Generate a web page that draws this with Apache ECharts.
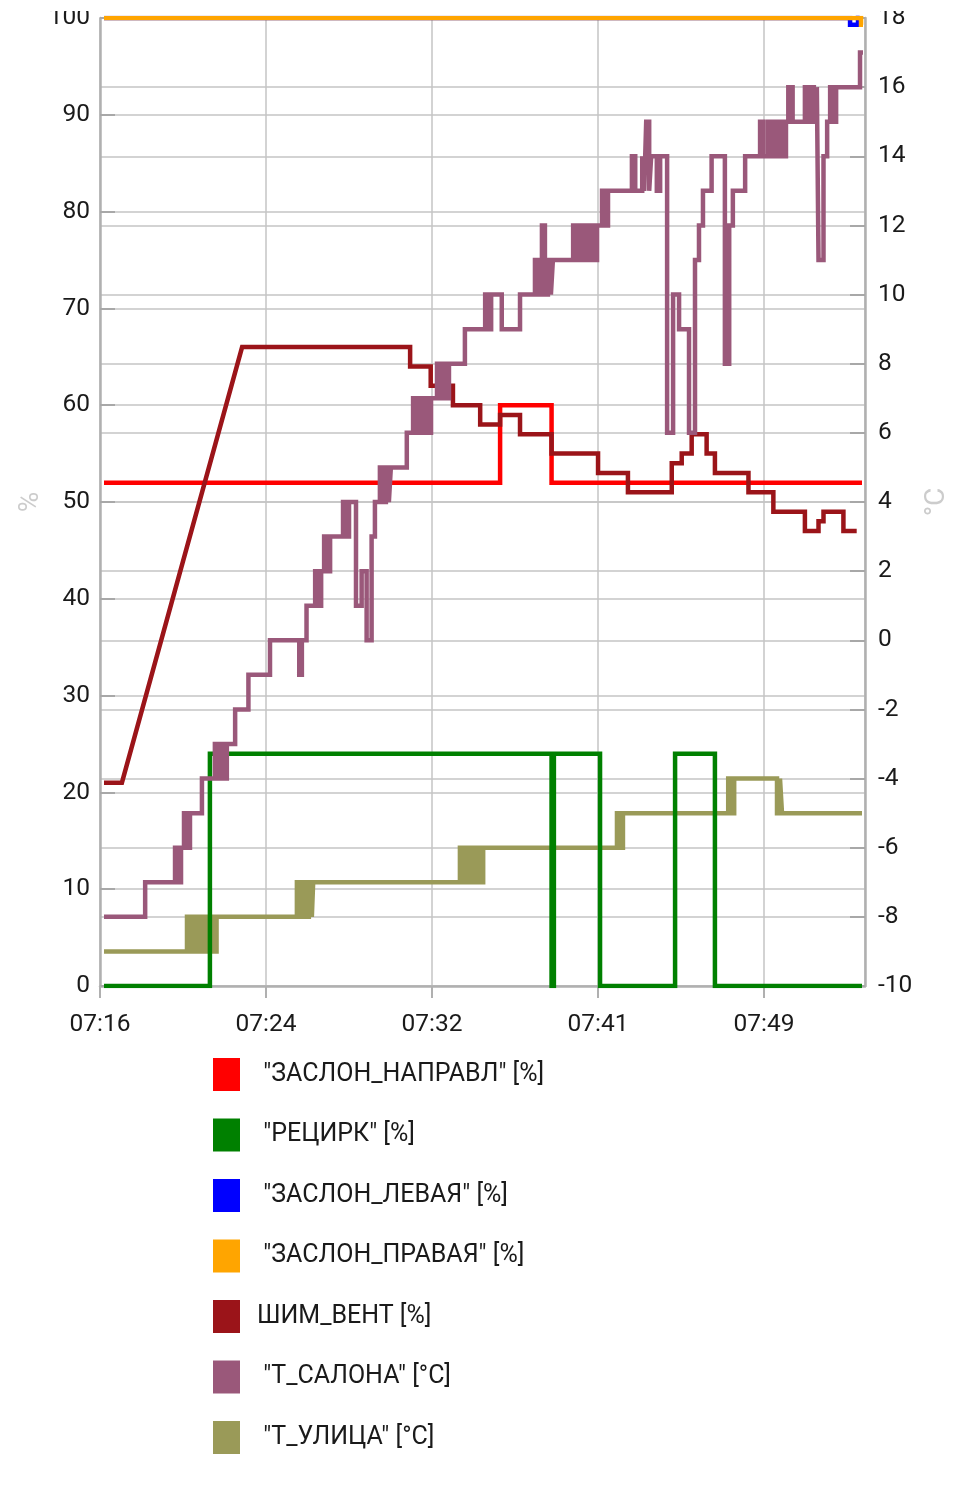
<!DOCTYPE html>
<html>
<head>
<meta charset="utf-8">
<script src="https://cdn.jsdelivr.net/npm/echarts@6/dist/echarts.min.js"></script>
<style>
  html, body { margin: 0; padding: 0; background: #ffffff; }
  #chart { width: 960px; height: 1493px; }
</style>
</head>
<body>
<div id="chart"></div>
<script>
// Time axis: seconds after 07:16:00
const startClock = 7 * 3600 + 16 * 60;
const xMin = 0, xMax = 2304, xStep = 500;

const seriesNames = [
  ' "ЗАСЛОН_НАПРАВЛ" [%]',
  ' "РЕЦИРК" [%]',
  ' "ЗАСЛОН_ЛЕВАЯ" [%]',
  ' "ЗАСЛОН_ПРАВАЯ" [%]',
  'ШИМ_ВЕНТ [%]',
  ' "Т_САЛОНА" [°C]',
  ' "Т_УЛИЦА" [°C]'
];
const seriesColors = ['#ff0000', '#008000', '#0000ff', '#ffa500', '#9b1419', '#9a587a', '#9a9a58'];

// [seconds, value] change points (step series: value holds until next point)
const flapDir = [[12, 52], [1205, 60], [1360, 52], [2295, 52]];
const recirc = [[12, 0], [331, 24], [1360, 0], [1367, 24], [1506, 0], [1732, 24], [1852, 0], [2295, 0]];
const flapLeft = [[12, 100], [2259, 99.3], [2283, 100], [2289, 99.3], [2298, 99.3]];
const flapRight = [[12, 100], [2292, 99.3], [2298, 99.3]];

// polyline points (ramp + steps)
const pwmFan = [
  [12, 21], [66, 21], [428, 66], [934, 66], [934, 64], [996, 64], [996, 62], [1063, 62], [1063, 60],
  [1145, 60], [1145, 58], [1205, 58], [1205, 59], [1265, 59], [1265, 57], [1360, 57], [1360, 55],
  [1500, 55], [1500, 53], [1590, 53], [1590, 51], [1722, 51], [1722, 54], [1752, 54], [1752, 55],
  [1782, 55], [1782, 57], [1827, 57], [1827, 55], [1852, 55], [1852, 53], [1953, 53], [1953, 51],
  [2028, 51], [2028, 49], [2123, 49], [2123, 47], [2164, 47], [2164, 48], [2179, 48], [2179, 49],
  [2239, 49], [2239, 47], [2279, 47]
];

// cabin temperature, step change points
const cabinTemp = [
  [12, -8], [136, -7], [226, -6], [235, -7], [244, -6], [253, -5], [262, -6], [271, -5], [307, -4],
  [346, -3], [355, -4], [364, -3], [373, -4], [382, -3], [407, -2], [447, -1], [512, 0], [600, -1],
  [608, 0], [622, 1], [648, 2], [657, 1], [666, 2], [675, 3], [684, 2], [693, 3], [732, 4], [741, 3],
  [750, 4], [771, 1], [788, 2], [803, 0], [818, 3], [828, 4], [843, 5], [852, 4], [861, 5], [870, 4],
  [876, 5], [924, 6], [943, 7], [952, 6], [961, 7], [970, 6], [979, 7], [988, 6], [997, 7], [1015, 8],
  [1024, 7], [1033, 8], [1042, 7], [1051, 8], [1099, 9], [1160, 10], [1169, 9], [1178, 10], [1210, 9],
  [1265, 10], [1310, 11], [1319, 10], [1331, 12], [1340, 10], [1349, 11], [1358, 10], [1364, 11],
  [1425, 12], [1434, 11], [1443, 12], [1452, 11], [1461, 12], [1470, 11], [1479, 12], [1488, 11],
  [1497, 12], [1512, 13], [1521, 12], [1530, 13], [1602, 14], [1612, 13], [1633, 14], [1639, 13],
  [1645, 15], [1654, 13], [1660, 14], [1677, 13], [1687, 14], [1708, 6], [1726, 10], [1744, 9],
  [1774, 6], [1792, 11], [1804, 12], [1816, 13], [1842, 14], [1882, 8], [1895, 12], [1906, 13],
  [1943, 14], [1988, 15], [1998, 14], [2012, 15], [2021, 14], [2030, 15], [2039, 14], [2048, 15],
  [2057, 14], [2066, 15], [2073, 16], [2086, 15], [2123, 16], [2132, 15], [2141, 16], [2150, 15],
  [2159, 16], [2164, 11], [2179, 14], [2190, 15], [2199, 16], [2208, 15], [2217, 16], [2289, 17],
  [2298, 17]
];

// outside temperature, step change points
const outsideTemp = [
  [12, -9], [262, -8], [271, -9], [280, -8], [289, -9], [298, -8], [307, -9], [316, -8], [325, -9],
  [334, -8], [343, -9], [351, -8], [593, -7], [602, -8], [611, -7], [620, -8], [629, -7], [638, -8],
  [642, -7], [1084, -6], [1093, -7], [1102, -6], [1111, -7], [1120, -6], [1129, -7], [1138, -6],
  [1147, -7], [1154, -6], [1557, -5], [1566, -6], [1575, -5], [1892, -4], [1901, -5], [1910, -4],
  [2039, -5], [2048, -4], [2054, -5], [2295, -5]
];

const leftAxis = { min: 0, max: 100, interval: 10, name: '%' };
const rightAxis = { min: -10, max: 18, interval: 2, name: '°C' };

function pad(n) { return (n < 10 ? '0' : '') + n; }
function clock(v) {
  const s = startClock + v;
  return pad(Math.floor(s / 3600)) + ':' + pad(Math.floor((s % 3600) / 60));
}

const font = 'Roboto';
const labelSize = 24.5;
const gridLine = { show: true, lineStyle: { color: '#c4c4c4', width: 1.5 } };
const axisLine = { show: true, lineStyle: { color: '#b0b0b0', width: 2.5 } };

function lineSeries(i, data, yIdx, step, z) {
  return {
    name: seriesNames[i],
    type: 'line',
    yAxisIndex: yIdx,
    data: data,
    step: step ? 'end' : false,
    symbol: 'none',
    z: z,
    lineStyle: { color: seriesColors[i], width: 4.5, join: 'miter', cap: 'butt' },
    itemStyle: { color: seriesColors[i] },
    animation: false
  };
}

const chart = echarts.init(document.getElementById('chart'), null, { renderer: 'canvas' });
chart.setOption({
  backgroundColor: '#ffffff',
  animation: false,
  textStyle: { fontFamily: font },
  grid: { left: 100, right: 95, top: 18, bottom: 507, containLabel: false },
  // the source screenshot is cut just above the top tick labels
  graphic: [{
    type: 'rect', left: 0, top: 0, z: 100,
    shape: { width: 960, height: 11 },
    style: { fill: '#ffffff' }
  }],
  legend: {
    orient: 'vertical',
    left: 213,
    top: 1058,
    padding: 0,
    itemWidth: 27,
    itemHeight: 33,
    itemGap: 27.5,
    icon: 'rect',
    selectedMode: false,
    data: seriesNames,
    textStyle: { fontFamily: font, fontSize: 25, color: '#1a1a1a', padding: [0, 0, 0, 12] }
  },
  xAxis: {
    type: 'value',
    min: xMin, max: xMax, interval: xStep,
    axisLine: axisLine,
    axisTick: { show: true, inside: false, length: 12, lineStyle: { color: '#b0b0b0', width: 2 } },
    axisLabel: { formatter: clock, fontFamily: font, fontSize: labelSize, color: '#1a1a1a', margin: 26, showMaxLabel: false },
    splitLine: gridLine
  },
  yAxis: [
    {
      type: 'value', position: 'left',
      min: leftAxis.min, max: leftAxis.max, interval: leftAxis.interval,
      name: leftAxis.name, nameLocation: 'middle', nameGap: 55, nameMoveOverlap: false,
      nameTextStyle: { color: '#cccccc', fontSize: 28, fontFamily: font },
      axisLine: axisLine,
      axisTick: { show: true, inside: true, length: 15, lineStyle: { color: '#a8a8a8', width: 2 } },
      axisLabel: { fontFamily: font, fontSize: labelSize, color: '#1a1a1a', margin: 10 },
      splitLine: gridLine
    },
    {
      type: 'value', position: 'right',
      min: rightAxis.min, max: rightAxis.max, interval: rightAxis.interval,
      name: rightAxis.name, nameLocation: 'middle', nameGap: 57,
      nameTextStyle: { color: '#cccccc', fontSize: 28, fontFamily: font },
      axisLine: axisLine,
      axisTick: { show: true, inside: true, length: 15, lineStyle: { color: '#a8a8a8', width: 2 } },
      axisLabel: { fontFamily: font, fontSize: labelSize, color: '#1a1a1a', margin: 13 },
      splitLine: gridLine
    }
  ],
  series: [
    lineSeries(6, outsideTemp, 1, true, 2),
    lineSeries(1, recirc, 0, true, 3),
    lineSeries(0, flapDir, 0, true, 3),
    lineSeries(2, flapLeft, 0, true, 3),
    lineSeries(3, flapRight, 0, true, 3),
    lineSeries(4, pwmFan, 0, false, 4),
    lineSeries(5, cabinTemp, 1, true, 5)
  ]
});
</script>
</body>
</html>
